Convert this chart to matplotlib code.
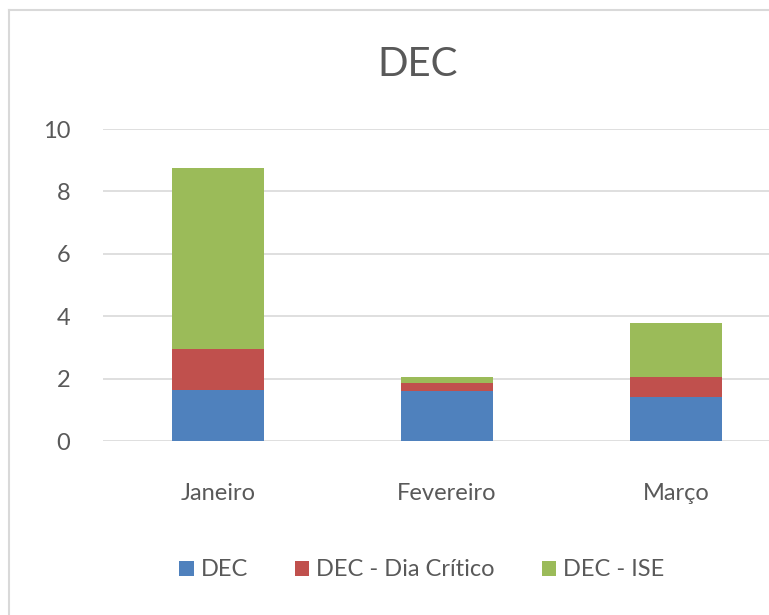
import numpy as np
import matplotlib.pyplot as plt
from matplotlib.lines import Line2D

months = ['Janeiro', 'Fevereiro', 'Março']
series_names = ['DEC', 'DEC - Dia Crítico', 'DEC - ISE']
dec = [1.65, 1.6, 1.42]
dec_dia_critico = [1.3, 0.25, 0.63]
dec_ise = [5.8, 0.2, 1.73]
colors = ['#4f81bd', '#c0504d', '#9bbb59']

plt.rcParams['font.family'] = ['Lato', 'DejaVu Sans']
text_color = '#595959'

fig = plt.figure(figsize=(7.69, 6.15), dpi=100)

# chart area border (cropped at right/bottom)
fig.add_artist(Line2D([9 / 769, 9 / 769], [0, 1 - 10 / 615], transform=fig.transFigure,
                      color='#d9d9d9', lw=1.5))
fig.add_artist(Line2D([9 / 769, 1], [1 - 10 / 615, 1 - 10 / 615], transform=fig.transFigure,
                      color='#d9d9d9', lw=1.5))

ax = fig.add_axes([103.5 / 769, 174 / 615, 687 / 769, 312 / 615])

x = np.arange(len(months))
bottom = np.zeros(len(months))
for vals, name, c in zip([dec, dec_dia_critico, dec_ise], series_names, colors):
    ax.bar(x, vals, width=0.4, bottom=bottom, color=c, label=name, zorder=3)
    bottom += np.array(vals)

ax.set_xlim(-0.5, 2.5)
ax.set_ylim(0, 10)
ax.set_yticks(range(0, 11, 2))
ax.set_xticks(x)
ax.set_xticklabels(months)
ax.grid(axis='y', color='#d9d9d9', lw=1.2, zorder=0)
for s in ax.spines.values():
    s.set_visible(False)
ax.tick_params(length=0, labelsize=17, colors=text_color)
ax.tick_params(axis='x', pad=30)
ax.tick_params(axis='y', pad=24)

fig.text(418 / 769, 1 - 64 / 615, 'DEC', ha='center', va='center', fontsize=29, color=text_color)

leg = fig.legend(loc='center', bbox_to_anchor=(422 / 769, 1 - 570 / 615), ncol=3, frameon=False,
                 fontsize=17, handlelength=0.6, handleheight=0.6, handletextpad=0.3,
                 columnspacing=2.0)
for t in leg.get_texts():
    t.set_color(text_color)

fig.savefig('out.png', dpi=100)
